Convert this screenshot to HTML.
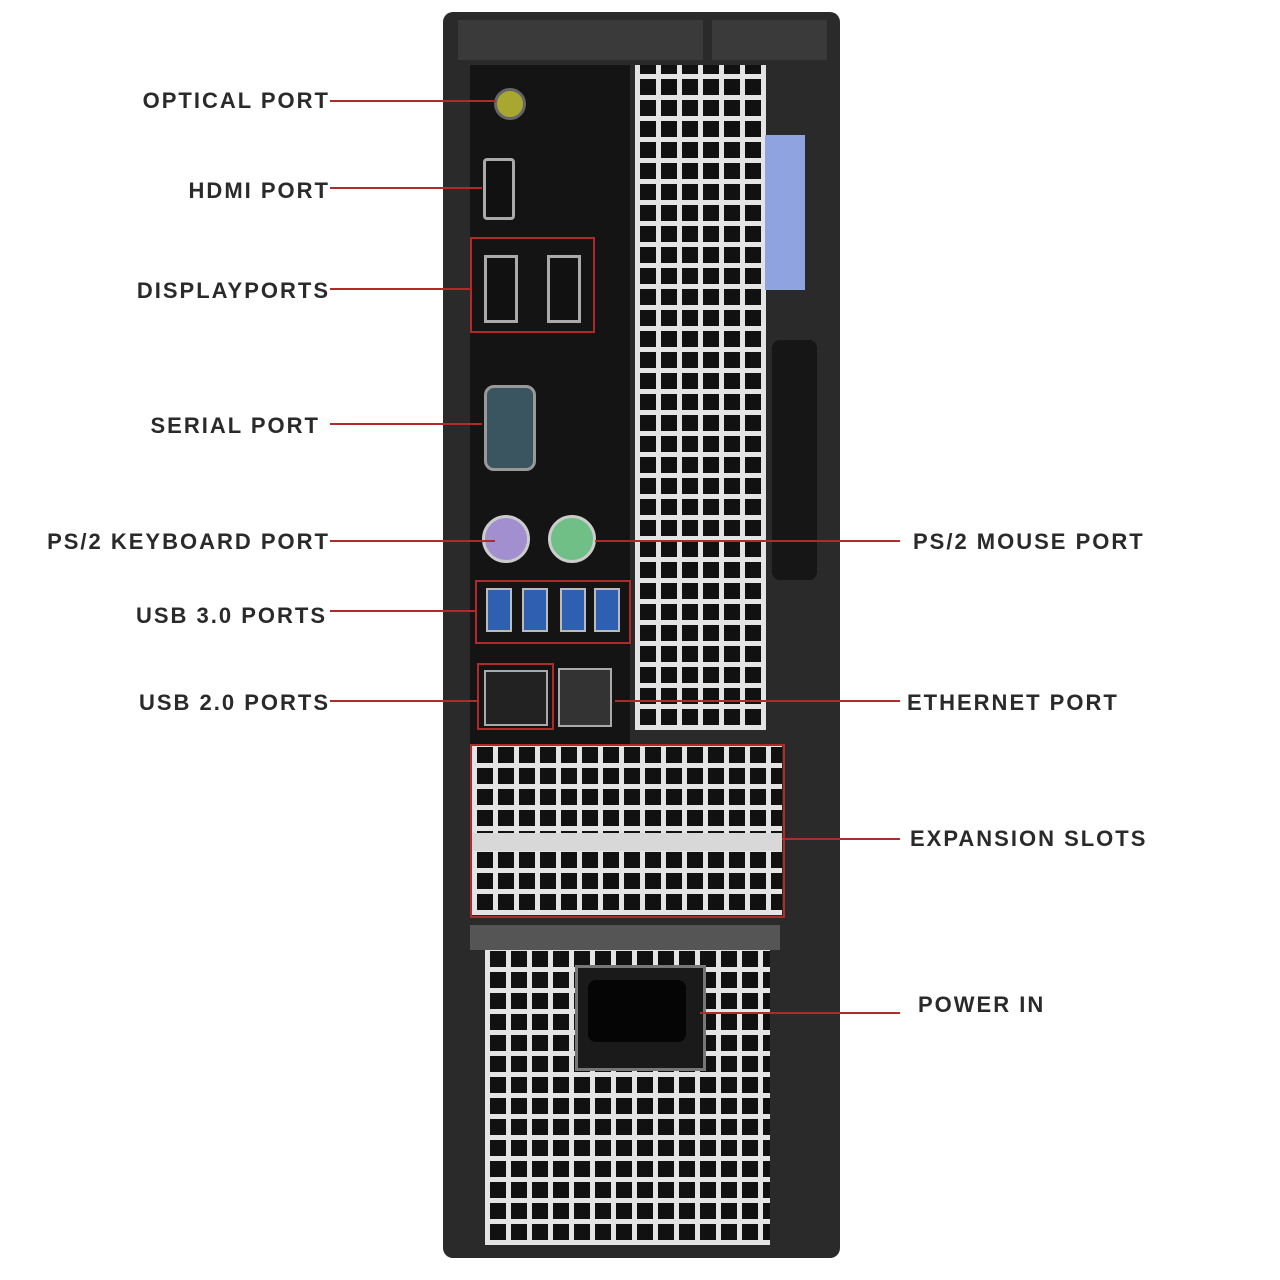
<!DOCTYPE html>
<html><head><meta charset="utf-8"><style>
body{margin:0;width:1280px;height:1280px;background:#fff;position:relative;overflow:hidden;font-family:"Liberation Sans",sans-serif}
.a{position:absolute}
.lbl{position:absolute;font-weight:bold;font-size:22px;color:#2a2a2a;white-space:nowrap;line-height:22px;letter-spacing:2px}
.l{text-align:right;right:950px}
.ln{position:absolute;height:2px;background:#b02a2a}
.grid{background:repeating-linear-gradient(90deg,#e4e4e4 0 5px,transparent 5px 21px),repeating-linear-gradient(0deg,#e4e4e4 0 5px,transparent 5px 21px),#111}
.usb{position:absolute;width:22px;height:40px;background:#2f5fb0;border:2px solid #bbb}
.box{position:absolute;border:2px solid #b02a2a}
</style></head><body>
<div class="a" style="left:443px;top:12px;width:397px;height:1246px;background:#2a2a2a;border-radius:10px"></div>
<div class="a" style="left:458px;top:20px;width:245px;height:40px;background:#3a3a3a"></div>
<div class="a" style="left:712px;top:20px;width:115px;height:40px;background:#3a3a3a"></div>
<div class="a" style="left:470px;top:65px;width:160px;height:680px;background:#141414"></div>
<div class="a grid" style="left:635px;top:65px;width:131px;height:665px"></div>
<div class="a" style="left:765px;top:135px;width:40px;height:155px;background:#8fa3e0"></div>
<div class="a" style="left:772px;top:340px;width:45px;height:240px;background:#161616;border-radius:8px"></div>
<div class="a" style="left:494px;top:88px;width:26px;height:26px;border-radius:50%;background:#a8a830;border:3px solid #666"></div>
<div class="a" style="left:483px;top:158px;width:26px;height:56px;border:3px solid #aaa;border-radius:4px;background:#111"></div>
<div class="a" style="left:484px;top:255px;width:28px;height:62px;border:3px solid #aaa;background:#111"></div>
<div class="a" style="left:547px;top:255px;width:28px;height:62px;border:3px solid #aaa;background:#111"></div>
<div class="a" style="left:484px;top:385px;width:46px;height:80px;border-radius:10px;background:#3a5560;border:3px solid #999"></div>
<div class="a" style="left:482px;top:515px;width:42px;height:42px;border-radius:50%;background:#a18fcf;border:3px solid #ccc"></div>
<div class="a" style="left:548px;top:515px;width:42px;height:42px;border-radius:50%;background:#6fbf86;border:3px solid #ccc"></div>
<div class="usb" style="left:486px;top:588px"></div><div class="usb" style="left:522px;top:588px"></div>
<div class="usb" style="left:560px;top:588px"></div><div class="usb" style="left:594px;top:588px"></div>
<div class="a" style="left:484px;top:670px;width:60px;height:52px;background:#222;border:2px solid #aaa"></div>
<div class="a" style="left:558px;top:668px;width:50px;height:55px;background:#333;border:2px solid #aaa"></div>
<div class="a grid" style="left:472px;top:745px;width:310px;height:170px"></div>
<div class="a" style="left:472px;top:833px;width:310px;height:18px;background:#d8d8d8"></div>
<div class="a" style="left:470px;top:925px;width:310px;height:25px;background:#555"></div>
<div class="a grid" style="left:485px;top:950px;width:285px;height:295px"></div>
<div class="a" style="left:575px;top:965px;width:125px;height:100px;background:#1a1a1a;border:3px solid #777"></div>
<div class="a" style="left:588px;top:980px;width:98px;height:62px;background:#050505;border-radius:8px"></div>
<div class="box" style="left:470px;top:237px;width:121px;height:92px"></div>
<div class="box" style="left:475px;top:580px;width:152px;height:60px"></div>
<div class="box" style="left:477px;top:663px;width:73px;height:63px"></div>
<div class="box" style="left:470px;top:744px;width:311px;height:170px"></div>
<div class="ln" style="left:330px;top:100px;width:166px"></div>
<div class="ln" style="left:330px;top:187px;width:152px"></div>
<div class="ln" style="left:330px;top:288px;width:141px"></div>
<div class="ln" style="left:330px;top:423px;width:152px"></div>
<div class="ln" style="left:330px;top:540px;width:165px"></div>
<div class="ln" style="left:330px;top:610px;width:145px"></div>
<div class="ln" style="left:330px;top:700px;width:148px"></div>
<div class="ln" style="left:595px;top:540px;width:305px"></div>
<div class="ln" style="left:615px;top:700px;width:285px"></div>
<div class="ln" style="left:782px;top:838px;width:118px"></div>
<div class="ln" style="left:700px;top:1012px;width:200px"></div>
<div class="lbl l" style="top:90px">OPTICAL PORT</div>
<div class="lbl l" style="top:180px">HDMI PORT</div>
<div class="lbl l" style="top:280px">DISPLAYPORTS</div>
<div class="lbl l" style="top:415px;right:960px">SERIAL PORT</div>
<div class="lbl l" style="top:531px">PS/2 KEYBOARD PORT</div>
<div class="lbl l" style="top:605px;right:953px">USB 3.0 PORTS</div>
<div class="lbl l" style="top:692px">USB 2.0 PORTS</div>
<div class="lbl" style="left:913px;top:531px">PS/2 MOUSE PORT</div>
<div class="lbl" style="left:907px;top:692px">ETHERNET PORT</div>
<div class="lbl" style="left:910px;top:828px">EXPANSION SLOTS</div>
<div class="lbl" style="left:918px;top:994px">POWER IN</div>
</body></html>
